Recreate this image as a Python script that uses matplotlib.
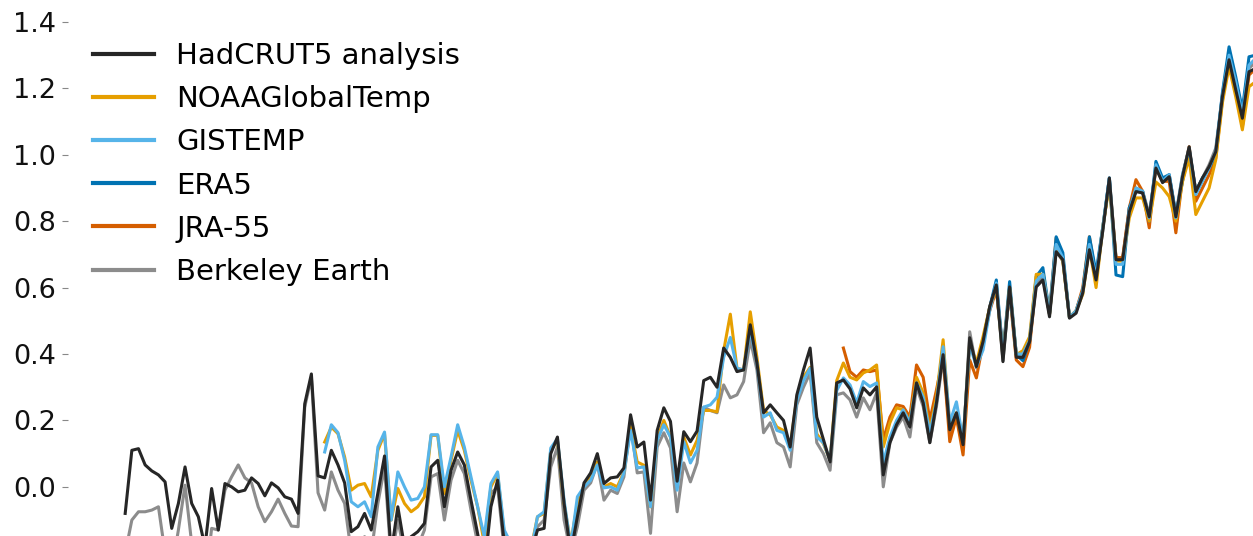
import numpy as np
import matplotlib
matplotlib.use("Agg")
import matplotlib.pyplot as plt

# annual global mean temperature anomalies (degC)
years_had = np.arange(1850, 2021)
hadcrut5 = [
    -0.08, 0.11, 0.115, 0.066, 0.048, 0.036, 0.015, -0.125, -0.05, 0.06,
    -0.05, -0.09, -0.18, -0.005, -0.13, 0.01, 0.0, -0.015, -0.01, 0.027,
    0.01, -0.027, 0.012, -0.003, -0.03, -0.037, -0.08, 0.25, 0.34, 0.033,
    0.027, 0.11, 0.066, 0.012, -0.135, -0.12, -0.08, -0.13, -0.018, 0.093,
    -0.2, -0.06, -0.18, -0.15, -0.135, -0.11, 0.06, 0.08, -0.06, 0.05,
    0.105, 0.066, -0.04, -0.14, -0.25, -0.06, 0.02, -0.17, -0.22, -0.2,
    -0.19, -0.2, -0.13, -0.125, 0.1, 0.15, -0.05, -0.2, -0.09, 0.012,
    0.042, 0.1, 0.01, 0.027, 0.03, 0.057, 0.217, 0.12, 0.135, -0.04,
    0.17, 0.238, 0.197, 0.017, 0.166, 0.136, 0.168, 0.32, 0.33, 0.3,
    0.418, 0.39, 0.347, 0.352, 0.488, 0.373, 0.223, 0.247, 0.223, 0.2,
    0.12, 0.277, 0.352, 0.418, 0.21, 0.142, 0.075, 0.313, 0.322, 0.295,
    0.238, 0.298, 0.277, 0.301, 0.036, 0.133, 0.187, 0.223, 0.18, 0.313,
    0.253, 0.133, 0.253, 0.398, 0.172, 0.223, 0.127, 0.449, 0.362, 0.437,
    0.542, 0.608, 0.377, 0.602, 0.39, 0.39, 0.437, 0.602, 0.623, 0.512,
    0.708, 0.684, 0.508, 0.523, 0.584, 0.714, 0.623, 0.77, 0.93, 0.684,
    0.684, 0.828, 0.889, 0.885, 0.813, 0.96, 0.916, 0.934, 0.813, 0.934,
    1.024, 0.889, 0.93, 0.964, 1.009, 1.175, 1.286, 1.196, 1.11, 1.25,
    1.26]

years_noaa = np.arange(1880, 2021)
noaa = [
    0.135, 0.18, 0.16, 0.09, -0.01, 0.005, 0.01, -0.03, 0.11, 0.16,
    -0.1, -0.005, -0.05, -0.075, -0.06, -0.03, 0.155, 0.155, -0.02, 0.08,
    0.17, 0.11, 0.02, -0.06, -0.17, 0.0, 0.04, -0.14, -0.18, -0.2,
    -0.17, -0.19, -0.09, -0.08, 0.11, 0.14, -0.05, -0.17, -0.05, 0.005,
    0.03, 0.075, 0.0, 0.01, 0.0, 0.045, 0.18, 0.075, 0.065, -0.06,
    0.145, 0.2, 0.15, 0.0, 0.15, 0.096, 0.14, 0.23, 0.23, 0.226,
    0.41, 0.52, 0.357, 0.352, 0.527, 0.39, 0.23, 0.217, 0.18, 0.17,
    0.12, 0.27, 0.33, 0.36, 0.16, 0.13, 0.08, 0.32, 0.373, 0.33,
    0.322, 0.343, 0.352, 0.367, 0.12, 0.193, 0.238, 0.232, 0.196, 0.33,
    0.283, 0.172, 0.27, 0.443, 0.18, 0.223, 0.136, 0.433, 0.373, 0.452,
    0.54, 0.6, 0.392, 0.6, 0.398, 0.41, 0.452, 0.64, 0.64, 0.52,
    0.72, 0.68, 0.51, 0.53, 0.58, 0.72, 0.6, 0.78, 0.91, 0.68,
    0.68, 0.81, 0.87, 0.87, 0.8, 0.918, 0.9, 0.874, 0.8, 0.92,
    0.99, 0.82, 0.86, 0.9, 0.985, 1.157, 1.265, 1.175, 1.075, 1.205,
    1.22]

years_giss = np.arange(1880, 2021)
gistemp = [
    0.105, 0.187, 0.163, 0.08, -0.045, -0.06, -0.045, -0.09, 0.12, 0.165,
    -0.1, 0.045, 0.0, -0.04, -0.035, 0.0, 0.157, 0.157, 0.0, 0.09,
    0.187, 0.12, 0.03, -0.06, -0.15, 0.01, 0.045, -0.13, -0.17, -0.2,
    -0.17, -0.2, -0.09, -0.075, 0.117, 0.145, -0.04, -0.18, -0.03, 0.0,
    0.02, 0.066, -0.003, 0.0, -0.01, 0.042, 0.17, 0.057, 0.06, -0.06,
    0.14, 0.187, 0.15, -0.01, 0.136, 0.072, 0.11, 0.24, 0.247, 0.27,
    0.39, 0.45, 0.357, 0.352, 0.473, 0.373, 0.21, 0.223, 0.17, 0.163,
    0.11, 0.26, 0.32, 0.357, 0.15, 0.133, 0.08, 0.29, 0.328, 0.307,
    0.253, 0.317, 0.302, 0.313, 0.072, 0.15, 0.2, 0.232, 0.193, 0.313,
    0.27, 0.163, 0.256, 0.422, 0.193, 0.256, 0.142, 0.428, 0.362, 0.412,
    0.53, 0.614, 0.392, 0.593, 0.4, 0.4, 0.44, 0.62, 0.64, 0.52,
    0.73, 0.69, 0.51, 0.53, 0.59, 0.73, 0.63, 0.78, 0.93, 0.67,
    0.67, 0.83, 0.9, 0.89, 0.81, 0.97, 0.92, 0.94, 0.81, 0.94,
    1.02, 0.88, 0.92, 0.96, 1.01, 1.18, 1.3, 1.22, 1.12, 1.27,
    1.29]

years_era5 = np.arange(1979, 2021)
era5 = [
    0.433, 0.54, 0.623, 0.4, 0.618, 0.398, 0.38, 0.44, 0.633, 0.66,
    0.523, 0.753, 0.705, 0.51, 0.53, 0.59, 0.753, 0.645, 0.78, 0.93,
    0.638, 0.633, 0.84, 0.89, 0.89, 0.8, 0.98, 0.93, 0.94, 0.82,
    0.92, 1.015, 0.89, 0.93, 0.96, 1.0, 1.187, 1.325, 1.235, 1.136,
    1.295, 1.3]

years_jra = np.arange(1958, 2021)
jra55 = [
    0.418, 0.347, 0.33, 0.352, 0.347, 0.352, 0.142, 0.21, 0.247, 0.242,
    0.21, 0.367, 0.33, 0.2, 0.292, 0.392, 0.136, 0.21, 0.096, 0.382,
    0.328, 0.433, 0.53, 0.593, 0.412, 0.584, 0.382, 0.362, 0.42, 0.62,
    0.64, 0.52, 0.75, 0.69, 0.51, 0.53, 0.6, 0.753, 0.63, 0.78,
    0.92, 0.69, 0.69, 0.84, 0.925, 0.89, 0.78, 0.965, 0.92, 0.92,
    0.765, 0.93, 1.024, 0.86, 0.9, 0.94, 0.99, 1.165, 1.306, 1.2,
    1.084, 1.24, 1.26]

years_be = np.arange(1850, 2021)
berkeley = [
    -0.2, -0.1, -0.075, -0.075, -0.07, -0.06, -0.2, -0.25, -0.13, 0.005,
    -0.17, -0.25, -0.3, -0.125, -0.13, -0.01, 0.03, 0.066, 0.027, 0.012,
    -0.06, -0.105, -0.075, -0.037, -0.08, -0.118, -0.12, 0.24, 0.33, -0.018,
    -0.07, 0.045, -0.01, -0.05, -0.2, -0.2, -0.15, -0.2, -0.05, 0.06,
    -0.22, -0.1, -0.2, -0.2, -0.18, -0.13, 0.03, 0.04, -0.1, 0.02,
    0.08, 0.04, -0.07, -0.17, -0.26, -0.02, 0.0, -0.19, -0.22, -0.24,
    -0.2, -0.22, -0.12, -0.1, 0.06, 0.12, -0.1, -0.2, -0.12, -0.01,
    0.012, 0.07, -0.04, -0.01, -0.02, 0.03, 0.19, 0.042, 0.045, -0.14,
    0.12, 0.163, 0.117, -0.075, 0.072, 0.015, 0.072, 0.24, 0.23, 0.223,
    0.307, 0.268, 0.277, 0.317, 0.443, 0.352, 0.163, 0.193, 0.133, 0.12,
    0.06, 0.247, 0.3, 0.343, 0.133, 0.1, 0.05, 0.277, 0.283, 0.262,
    0.21, 0.268, 0.232, 0.283, 0.0, 0.133, 0.18, 0.21, 0.15, 0.301,
    0.242, 0.133, 0.242, 0.388, 0.163, 0.21, 0.12, 0.467, 0.358, 0.443,
    0.54, 0.61, 0.38, 0.6, 0.4, 0.39, 0.44, 0.61, 0.63, 0.52,
    0.71, 0.68, 0.51, 0.53, 0.59, 0.72, 0.63, 0.77, 0.93, 0.69,
    0.69, 0.84, 0.9, 0.89, 0.82, 0.96, 0.92, 0.94, 0.82, 0.94,
    1.02, 0.89, 0.93, 0.97, 1.02, 1.18, 1.3, 1.22, 1.13, 1.26,
    1.28]

series = [
    ("HadCRUT5 analysis", years_had, hadcrut5, "#262626", 7),
    ("NOAAGlobalTemp", years_noaa, noaa, "#E69F00", 4),
    ("GISTEMP", years_giss, gistemp, "#56B4E9", 5),
    ("ERA5", years_era5, era5, "#0072B2", 3),
    ("JRA-55", years_jra, jra55, "#D55E00", 2),
    ("Berkeley Earth", years_be, berkeley, "#8c8c8c", 1),
]

fig = plt.figure(figsize=(12.53, 5.36), dpi=100)
ax = fig.add_axes([68 / 1253, 0, 1 - 68 / 1253, 1])

for name, yrs, vals, col, z in series:
    ax.plot(yrs, vals, color=col, lw=2.2, label=name, zorder=z)

ticks = np.arange(-0.2, 1.41, 0.2)
ax.set_yticks(ticks)
ax.set_yticklabels(["%.1f" % v for v in ticks])
# limits after the ticks, so the -0.2 tick does not widen the view
ax.set_xlim(1841.4, 2019.6)
ax.set_ylim(-0.148, 1.466)
ax.tick_params(axis="y", labelsize=19.5, length=4, width=0.8,
               color="#888888", pad=4.5, labelcolor="#111111")
ax.set_xticks([])
for s in ax.spines.values():
    s.set_visible(False)

leg = ax.legend(loc="upper left", bbox_to_anchor=(93 / 1253, 1 - 42 / 536),
                bbox_transform=fig.transFigure, frameon=False, fontsize=21,
                handlelength=2.1, handletextpad=0.75, labelspacing=0.52,
                borderpad=0, borderaxespad=0)
for line in leg.get_lines():
    line.set_linewidth(3.0)

fig.savefig("out.png", dpi=100)
